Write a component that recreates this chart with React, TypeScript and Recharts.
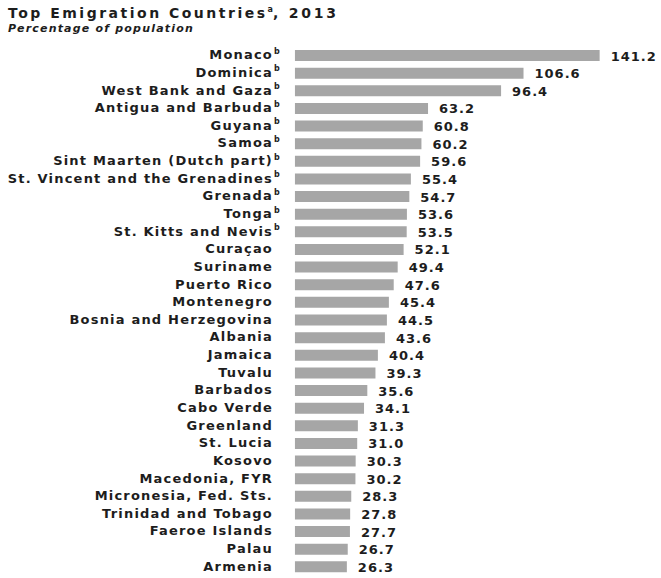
import React from "react";
import { BarChart, Bar, XAxis, YAxis, LabelList } from "recharts";

const countries = [
  "Monaco", "Dominica", "West Bank and Gaza", "Antigua and Barbuda", "Guyana", "Samoa",
  "Sint Maarten (Dutch part)", "St. Vincent and the Grenadines", "Grenada", "Tonga",
  "St. Kitts and Nevis", "Curaçao", "Suriname", "Puerto Rico", "Montenegro",
  "Bosnia and Herzegovina", "Albania", "Jamaica", "Tuvalu", "Barbados", "Cabo Verde",
  "Greenland", "St. Lucia", "Kosovo", "Macedonia, FYR", "Micronesia, Fed. Sts.",
  "Trinidad and Tobago", "Faeroe Islands", "Palau", "Armenia",
];

const values = [
  141.2, 106.6, 96.4, 63.2, 60.8, 60.2, 59.6, 55.4, 54.7, 53.6, 53.5, 52.1, 49.4, 47.6, 45.4,
  44.5, 43.6, 40.4, 39.3, 35.6, 34.1, 31.3, 31.0, 30.3, 30.2, 28.3, 27.8, 27.7, 26.7, 26.3,
];

const footnoteB = [
  "Monaco", "Dominica", "West Bank and Gaza", "Antigua and Barbuda", "Guyana", "Samoa",
  "Sint Maarten (Dutch part)", "St. Vincent and the Grenadines", "Grenada", "Tonga",
  "St. Kitts and Nevis",
];

const xDomain = [0, 150];
const barBase = 2.7;

const data = countries.map((name, i) => ({ name, value: values[i] }));

const FONT = "'DejaVu Sans', Verdana, sans-serif";
const TEXT = "#1d1d1d";

const CategoryTick = (props: any) => {
  const { x, y, payload } = props;
  const name = payload.value as string;
  const hasB = footnoteB.includes(name);
  return (
    <g>
      <text x={x} y={y} dy={3.5} textAnchor="end" fontFamily={FONT} fontWeight="bold" fontSize={13} fill={TEXT} letterSpacing={1.2}>
        {name}
      </text>
      {hasB && (
        <text x={x + 1} y={y - 2} textAnchor="start" fontFamily={FONT} fontWeight="bold" fontSize={8} fill={TEXT}>
          b
        </text>
      )}
    </g>
  );
};

const ValueLabel = (props: any) => {
  const { x, y, width, height, value } = props;
  return (
    <text x={x + width + 11} y={y + height / 2} dy={5} textAnchor="start" fontFamily={FONT} fontWeight="bold" fontSize={13} fill={TEXT} letterSpacing={1}>
      {Number(value).toFixed(1)}
    </text>
  );
};

export default function App() {
  return (
    <div style={{ position: "absolute", left: 0, top: 0, width: 661, height: 578, background: "#fff" }}>
      <svg width={661} height={40} style={{ position: "absolute", left: 0, top: 0 }}>
        <text x={8} y={18} fontFamily={FONT} fontWeight="bold" fontSize={14} fill={TEXT} letterSpacing={2.5}>
          Top Emigration Countries
          <tspan fontSize={8} dy={-6} letterSpacing={0}>a</tspan>
          <tspan dy={6} letterSpacing={2.8}>, 2013</tspan>
        </text>
        <text x={8} y={32} fontFamily={FONT} fontWeight="bold" fontStyle="italic" fontSize={11} fill={TEXT} letterSpacing={1.2}>
          Percentage of population
        </text>
      </svg>
      <div style={{ position: "absolute", left: 0, top: 0 }}>
        <BarChart
          width={661}
          height={578}
          data={data}
          layout="vertical"
          margin={{ top: 47, right: 42, bottom: 2, left: 0 }}
          barSize={11}
        >
          <XAxis type="number" domain={xDomain} hide />
          <YAxis
            type="category"
            dataKey="name"
            width={289}
            axisLine={false}
            tickLine={false}
            tickSize={0}
            tickMargin={16}
            interval={0}
            tick={<CategoryTick />}
          />
          <Bar dataKey={(d: any) => [barBase, d.value]} fill="#a6a6a6" isAnimationActive={false}>
            <LabelList dataKey="value" content={<ValueLabel />} />
          </Bar>
        </BarChart>
      </div>
    </div>
  );
}
